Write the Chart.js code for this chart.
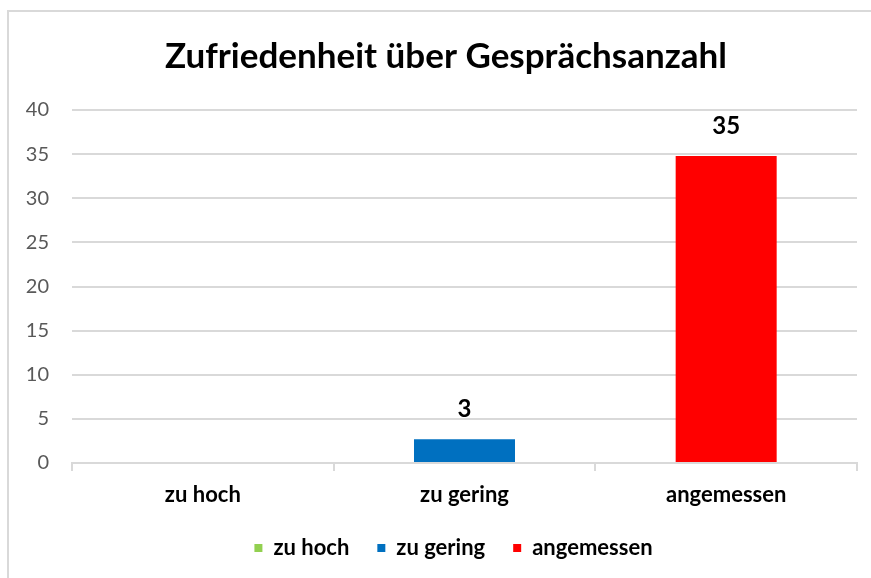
<!DOCTYPE html>
<html>
<head>
<meta charset="utf-8">
<script src="https://cdn.jsdelivr.net/npm/chart.js@4"></script>
<style>
  html, body { margin: 0; padding: 0; background: #ffffff; overflow: hidden; }
  #frame { position: absolute; left: 7px; top: 10px; width: 900px; height: 620px; border: 2px solid #d9d9d9; box-sizing: border-box; }
  #wrap { position: absolute; left: 0; top: 0; width: 871px; height: 578px; }
</style>
</head>
<body>
<div id="frame"></div>
<div id="wrap"><canvas id="c" width="871" height="578"></canvas></div>
<script>
const titleText = "Zufriedenheit über Gesprächsanzahl";
const categories = ["zu hoch", "zu gering", "angemessen"];
const values = [0, 2.7, 34.8];
const barColors = ["#92d050", "#0070c0", "#ff0000"];
const yTicks = [0, 5, 10, 15, 20, 25, 30, 35, 40];

const valueLabels = {
  id: 'valueLabels',
  afterDatasetsDraw(chart) {
    const ctx = chart.ctx;
    const meta = chart.getDatasetMeta(0);
    ctx.save();
    ctx.font = "bold 24px Lato";
    ctx.fillStyle = "#000000";
    ctx.textAlign = "center";
    ctx.textBaseline = "alphabetic";
    meta.data.forEach((bar, i) => {
      const v = chart.data.datasets[0].data[i];
      if (v > 0) ctx.fillText(String(Math.round(v)), bar.x, bar.y - 22);
    });
    ctx.restore();
  }
};

// shift title and legend boxes horizontally to match the original centring
const shiftBlocks = {
  id: 'shiftBlocks',
  afterLayout(chart) {
    const t = chart.titleBlock;
    if (t) { t.left += 7.5; t.right += 7.5; }
    const l = chart.legend;
    if (l) { l.left += 15; l.right += 15; }
  }
};

new Chart(document.getElementById('c'), {
  type: 'bar',
  data: {
    labels: categories,
    datasets: [{
      label: 'Anzahl',
      data: values,
      backgroundColor: barColors,
      borderWidth: 0,
      barPercentage: 0.386,
      categoryPercentage: 1
    }]
  },
  options: {
    responsive: false,
    animation: false,
    layout: { padding: { left: 20, right: 14, top: 0, bottom: 9 } },
    plugins: {
      title: {
        display: true,
        text: titleText,
        color: '#000000',
        font: { family: 'Lato', size: 35, weight: 'bold', lineHeight: 1.2 },
        padding: { top: 36, bottom: 32 }
      },
      legend: {
        position: 'bottom',
        labels: {
          font: { family: 'Lato', size: 22, weight: 'bold' },
          color: '#000000',
          boxWidth: 8,
          boxHeight: 8,
          padding: 28,
          generateLabels(chart) {
            return categories.map((c, i) => ({
              text: c,
              fillStyle: barColors[i],
              strokeStyle: barColors[i],
              lineWidth: 0,
              hidden: false,
              index: i
            }));
          }
        }
      },
      tooltip: { enabled: false }
    },
    scales: {
      x: {
        afterFit(scale) { scale.height = 46; },
        grid: { display: true, drawOnChartArea: false, drawTicks: true, tickLength: 8, color: '#d9d9d9', lineWidth: 2 },
        border: { display: true, color: '#d9d9d9', width: 2 },
        ticks: { color: '#000000', font: { family: 'Lato', size: 22, weight: 'bold' }, padding: 11 }
      },
      y: {
        min: 0,
        max: 40,
        afterBuildTicks(scale) { scale.ticks = yTicks.map(v => ({ value: v })); },
        afterFit(scale) { scale.width = 52; },
        grid: { color: '#d9d9d9', lineWidth: 2, drawTicks: false },
        border: { display: false },
        ticks: { color: '#595959', font: { family: 'Lato', size: 20 }, padding: 23 }
      }
    }
  },
  plugins: [valueLabels, shiftBlocks]
});
</script>
</body>
</html>
